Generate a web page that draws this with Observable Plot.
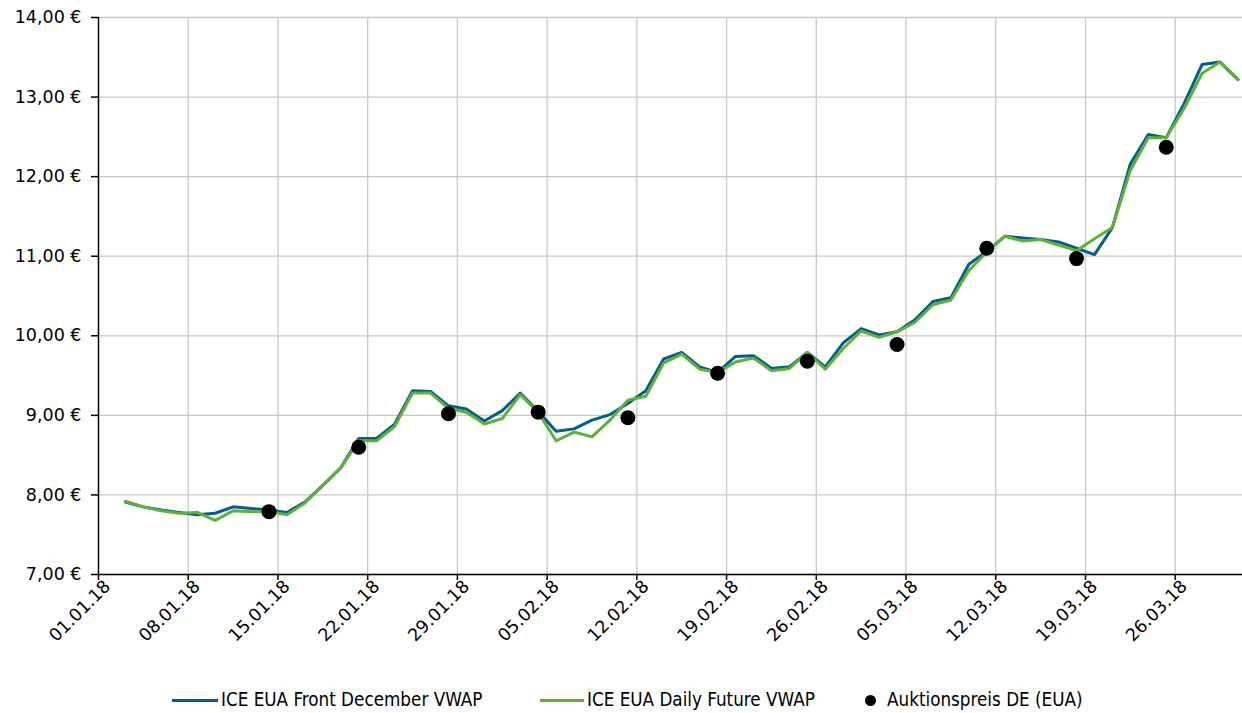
<!DOCTYPE html>
<html><head><meta charset="utf-8">
<script src="https://cdn.jsdelivr.net/npm/d3@7"></script>
<script src="https://cdn.jsdelivr.net/npm/@observablehq/plot@0.6"></script>
<style>
body{margin:0;background:#fff;font-family:"DejaVu Sans",sans-serif;}
#legend{position:relative;width:1242px;height:41px;font-family:"DejaVu Sans Condensed","DejaVu Sans",sans-serif;font-size:18.7px;color:#000;}
#legend .sw{position:absolute;top:27px;height:3px;}
#legend .dot{position:absolute;top:23px;width:11px;height:11px;border-radius:50%;background:#000;}
#legend .tx{position:absolute;top:18px;line-height:20px;white-space:nowrap;}
</style></head><body>
<div id="chart"></div>
<div id="legend"></div>
<script>
// Categories: trading-day slots (weekdays) of Q1 2018
const dates = [
  "01.01.18","02.01.18","03.01.18","04.01.18","05.01.18",
  "08.01.18","09.01.18","10.01.18","11.01.18","12.01.18",
  "15.01.18","16.01.18","17.01.18","18.01.18","19.01.18",
  "22.01.18","23.01.18","24.01.18","25.01.18","26.01.18",
  "29.01.18","30.01.18","31.01.18","01.02.18","02.02.18",
  "05.02.18","06.02.18","07.02.18","08.02.18","09.02.18",
  "12.02.18","13.02.18","14.02.18","15.02.18","16.02.18",
  "19.02.18","20.02.18","21.02.18","22.02.18","23.02.18",
  "26.02.18","27.02.18","28.02.18","01.03.18","02.03.18",
  "05.03.18","06.03.18","07.03.18","08.03.18","09.03.18",
  "12.03.18","13.03.18","14.03.18","15.03.18","16.03.18",
  "19.03.18","20.03.18","21.03.18","22.03.18","23.03.18",
  "26.03.18","27.03.18","28.03.18","29.03.18"
];
// ICE EUA Front December VWAP (€)
const frontDec = [
  null,7.91,7.85,7.81,7.78,
  7.75,7.77,7.85,7.83,7.81,
  7.78,7.91,8.12,8.34,8.71,
  8.71,8.89,9.31,9.30,9.12,
  9.08,8.93,9.06,9.28,9.05,
  8.80,8.83,8.94,9.01,9.15,
  9.31,9.71,9.79,9.61,9.54,
  9.74,9.75,9.59,9.61,9.79,
  9.61,9.91,10.09,10.01,10.05,
  10.20,10.43,10.48,10.90,11.06,
  11.25,11.23,11.21,11.18,11.10,
  11.02,11.36,12.16,12.53,12.49,
  12.92,13.41,13.44,13.22
];
// ICE EUA Daily Future VWAP (€)
const dailyFut = [
  null,7.92,7.85,7.80,7.77,
  7.78,7.68,7.80,7.79,7.79,
  7.75,7.90,8.12,8.34,8.68,
  8.68,8.86,9.28,9.28,9.09,
  9.04,8.89,8.96,9.26,9.04,
  8.68,8.79,8.73,8.94,9.19,
  9.24,9.66,9.77,9.58,9.54,
  9.67,9.72,9.56,9.59,9.79,
  9.58,9.84,10.06,9.98,10.05,
  10.17,10.39,10.45,10.82,11.05,
  11.25,11.19,11.21,11.14,11.07,
  11.22,11.36,12.08,12.49,12.49,
  12.86,13.30,13.44,13.22
];
// Auktionspreis DE (EUA)
const auctionDates = ["12.01.18","19.01.18","26.01.18","02.02.18","09.02.18","16.02.18","23.02.18","02.03.18","09.03.18","16.03.18","23.03.18"];
const auctionPrices = [7.79,8.60,9.02,9.04,8.97,9.53,9.68,9.89,11.10,10.97,12.37];
// Axis ticks
const yTicks = [7,8,9,10,11,12,13,14];
const xTickLabels = ["01.01.18","08.01.18","15.01.18","22.01.18","29.01.18","05.02.18","12.02.18","19.02.18","26.02.18","05.03.18","12.03.18","19.03.18","26.03.18"];

const idx = new Map(dates.map((d, i) => [d, i]));
const rows = dates.map((d, i) => ({date: d, pos: i + 0.5, front: frontDec[i], daily: dailyFut[i]}));
const auctions = auctionDates.map((d, i) => ({pos: idx.get(d) + 0.5, price: auctionPrices[i]}));
const boundaries = xTickLabels.map(d => idx.get(d));
const labelPos = xTickLabels.map(d => idx.get(d) + 0.5);
const gridCol = "#c8c8c8";

const chart = Plot.plot({
  width: 1242, height: 672,
  marginLeft: 98, marginRight: 0, marginTop: 17, marginBottom: 98,
  style: {fontFamily: "'DejaVu Sans', sans-serif", fontSize: "17.5px", color: "#000", background: "#fff", overflow: "visible"},
  x: {type: "linear", domain: [0, 63.75], label: null},
  y: {domain: [7, 14], label: null},
  marks: [
    Plot.gridY(yTicks, {stroke: gridCol, strokeOpacity: 1, strokeWidth: 1.3}),
    Plot.gridX(boundaries.slice(1), {stroke: gridCol, strokeOpacity: 1, strokeWidth: 1.3}),
    Plot.axisY(yTicks, {tickSize: 7, tickPadding: 10, tickFormat: d => d.toFixed(2).replace(".", ",") + " €", label: null, strokeWidth: 1.5}),
    Plot.axisX(boundaries, {tickSize: 6, tickFormat: () => "", label: null, strokeWidth: 1.5}),
    Plot.axisX(labelPos, {tickSize: 0, tickPadding: 9, tickRotate: -45, tickFormat: v => dates[Math.round(v - 0.5)], label: null}),
    Plot.ruleX([0], {stroke: "#000", strokeWidth: 1.5}),
    Plot.ruleY([7], {stroke: "#000", strokeWidth: 1.5}),
    Plot.line(rows, {x: "pos", y: "front", stroke: "#005f8e", strokeWidth: 3}),
    Plot.line(rows, {x: "pos", y: "daily", stroke: "#5db233", strokeWidth: 3}),
    Plot.dot(auctions, {x: "pos", y: "price", r: 7.5, fill: "#000"})
  ]
});
document.getElementById("chart").append(chart);

const legend = document.getElementById("legend");
legend.innerHTML = `
  <div class="sw" style="left:172px;width:46px;background:#005f8e"></div>
  <div class="tx" style="left:221px">ICE EUA Front December VWAP</div>
  <div class="sw" style="left:540px;width:44px;background:#5db233"></div>
  <div class="tx" style="left:587px">ICE EUA Daily Future VWAP</div>
  <div class="dot" style="left:865px"></div>
  <div class="tx" style="left:887px">Auktionspreis DE (EUA)</div>`;
</script>
</body></html>
